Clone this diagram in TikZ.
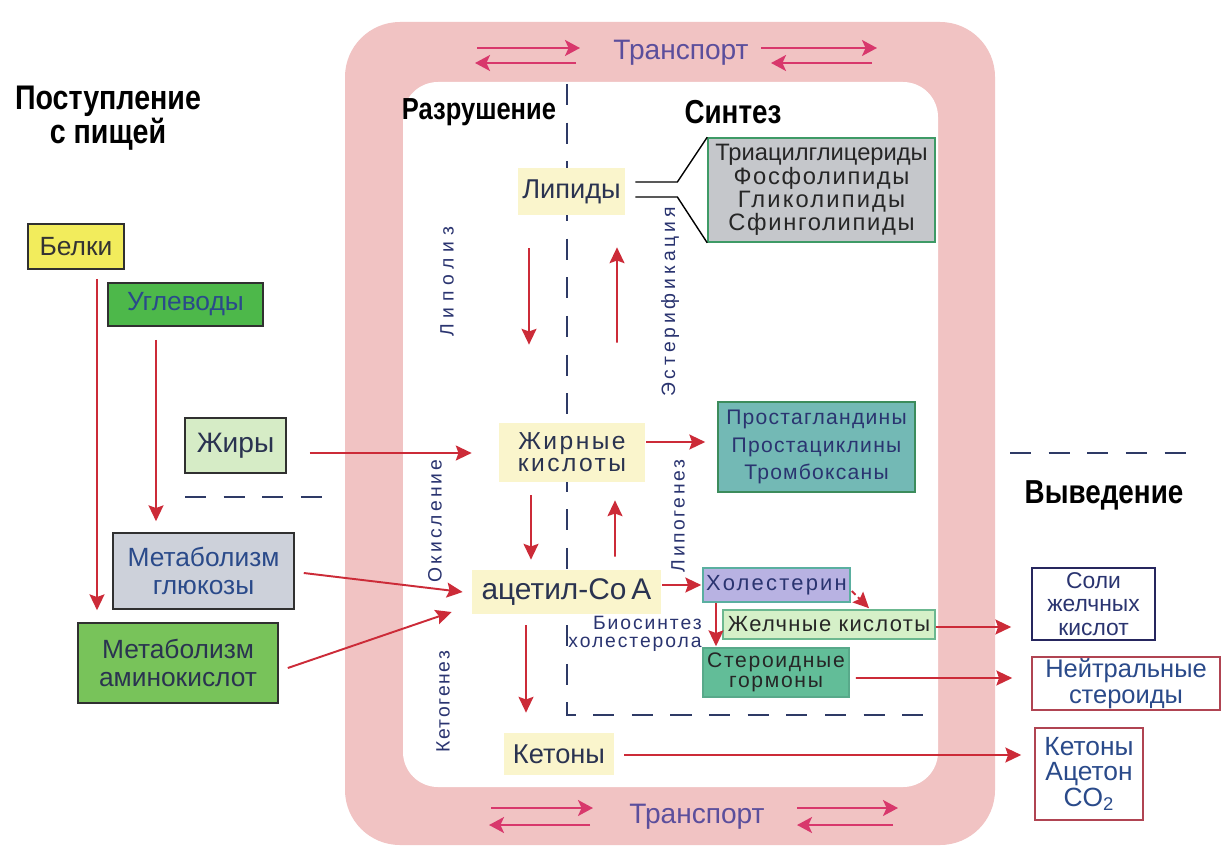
\documentclass[tikz,border=0pt]{standalone}
\usepackage{fontspec}
\usepackage{graphicx}
\setmainfont{Liberation Sans}
\usetikzlibrary{arrows.meta,calc}
\definecolor{pinkB}{HTML}{F1C3C3}
\definecolor{redA}{HTML}{CC2B38}
\definecolor{magA}{HTML}{D8386C}
\definecolor{dashC}{HTML}{2E3A66}
\definecolor{hlY}{HTML}{FAF5CC}
\definecolor{belkiY}{HTML}{F2EC5C}
\definecolor{uglG}{HTML}{4DB84A}
\definecolor{zhirG}{HTML}{D6ECC6}
\definecolor{glukG}{HTML}{CDD1DA}
\definecolor{aminoG}{HTML}{78C35A}
\definecolor{trigF}{HTML}{C5C7CB}
\definecolor{trigB}{HTML}{3E9A66}
\definecolor{prostF}{HTML}{73B9B5}
\definecolor{prostB}{HTML}{3C8C5C}
\definecolor{cholF}{HTML}{B8B2E2}
\definecolor{cholB}{HTML}{5AAFA0}
\definecolor{bileF}{HTML}{D5F0C8}
\definecolor{bileB}{HTML}{6CB890}
\definecolor{sterF}{HTML}{62BD98}
\definecolor{sterB}{HTML}{58A98A}
\definecolor{soliB}{HTML}{26265E}
\definecolor{neutB}{HTML}{B04452}
\definecolor{boxK}{HTML}{303030}
\definecolor{txt}{HTML}{2A3350}
\definecolor{navyT}{HTML}{2A3470}
\definecolor{transT}{HTML}{5B4E9C}
\definecolor{uglT}{HTML}{2A4A8A}
\newcommand\fs[2]{\fontsize{#1}{#2}\selectfont}
\newcommand\ls[1]{\addfontfeature{LetterSpace=#1}}
\tikzset{
 box/.style={draw=#1, line width=0.9pt, inner sep=0pt, align=center, text=txt},
 bw/.style={minimum width=#1*0.02cm},
 bh/.style={minimum height=#1*0.02cm},
 hl/.style={fill=hlY, inner sep=0pt, align=center, text=txt},
 ra/.style={draw=redA, line width=1.1pt, -{Stealth[length=9pt,width=8.5pt,inset=1.5pt]}},
 ta/.style={draw=magA, line width=1.5pt, -{Stealth[length=8.5pt,width=9pt,inset=2pt]}},
 dl/.style={draw=dashC, line width=1pt, dash pattern=on 12pt off 10pt},
 rot/.style={rotate=90, text=navyT, inner sep=0pt},
 head/.style={text=black, align=center, inner sep=0pt},
 thinl/.style={draw=black, line width=0.8pt},
}
\begin{document}
\begin{tikzpicture}[x=0.02cm,y=-0.02cm]
\useasboundingbox (0,0) rectangle (1229,865);
\fill[white] (0,0) rectangle (1229,865);
% transport band
\fill[pinkB, rounded corners=1.1cm] (345,22) rectangle (995,845);
\fill[white, rounded corners=0.7cm] (403,82) rectangle (938,787);
% dashed separators
\draw[dl] (567,84) -- (567,715) -- (932,715);
\draw[dl] (185,497) -- (335,497);
\draw[dl] (1010,453) -- (1195,453);
% headings
\node[head, font=\fs{18.5}{17}\bfseries] (post) at (108,118) {\scalebox{0.88}[1.05]{Поступление}\\\scalebox{0.88}[1.05]{с пищей}};
\node[head, font=\fs{16.5}{18}\bfseries] (razr) at (479,112) {\scalebox{0.88}[1.05]{Разрушение}};
\node[head, font=\fs{18}{18}\bfseries] (sint) at (733,112) {\scalebox{0.88}[1.05]{Синтез}};
\node[head, font=\fs{18}{18}\bfseries] (vyv) at (1104,495) {\scalebox{0.88}[1.05]{Выведение}};
% transport
\node[text=transT, font=\fs{16}{17}, inner sep=0pt] (trT) at (681,53) {Транспорт};
\node[text=transT, font=\fs{16}{17}, inner sep=0pt] (trB) at (697,817) {Транспорт};
\draw[ta] ($(trT)+(-204,-5)$) -- ($(trT)+(-101,-5)$);
\draw[ta] ($(trT)+(-105,10)$) -- ($(trT)+(-206,10)$);
\draw[ta] ($(trT)+(80,-5)$) -- ($(trT)+(196,-5)$);
\draw[ta] ($(trT)+(191,10)$) -- ($(trT)+(90,10)$);
\draw[ta] ($(trB)+(-206,-9)$) -- ($(trB)+(-104,-9)$);
\draw[ta] ($(trB)+(-107,8)$) -- ($(trB)+(-208,8)$);
\draw[ta] ($(trB)+(100,-9)$) -- ($(trB)+(201,-9)$);
\draw[ta] ($(trB)+(196,8)$) -- ($(trB)+(100,8)$);
% intake nodes
\node[box=boxK, fill=belkiY, bw=96, bh=45, font=\fs{15}{17}, text=black!80] (belki) at (76,246.5) {Белки};
\node[box=boxK, fill=uglG, bw=155, bh=43, font=\fs{15}{17}, text=uglT] (ugl) at (185.5,304.5) {Углеводы};
\node[box=boxK, fill=zhirG, bw=101, bh=55, font=\fs{16}{18}] (zhiry) at (235.5,445.5) {Жиры};
\node[box=boxK, fill=glukG, bw=181, bh=76, font=\fs{15}{16}, text=uglT] (gluk) at (203.5,571) {Метаболизм\\глюкозы};
\node[box=boxK, fill=aminoG, bw=200, bh=80, font=\fs{15}{15.5}] (amino) at (178,663) {Метаболизм\\аминокислот};
% central nodes
\node[hl, bw=107, bh=47, font=\fs{15.5}{18}] (lipidy) at (571.5,191.5) {Липиды};
\node[box=trigB, fill=trigF, bw=227, bh=104, font=\fs{13.5}{10.8}, text=black!85] (trig) at (821.5,190) {Триацилглицериды\\{\ls{7}Фосфолипиды}\\{\ls{9}Гликолипиды}\\{\ls{7}Сфинголипиды}};
\node[hl, bw=146, bh=59, font=\fs{14}{12.5}\ls{10}] (zhk) at (572,452.5) {Жирные\\кислоты};
\node[box=prostB, fill=prostF, bw=197, bh=90, font=\fs{12}{15.5}\ls{6}, text=navyT] (prost) at (816.5,447) {Простагландины\\Простациклины\\Тромбоксаны};
\node[hl, bw=189, bh=44, font=\fs{17}{19}] (acet) at (566.5,592) {ацетил-Co\,A};
\node[box=cholB, fill=cholF, bw=147, bh=34, font=\fs{12.5}{14}\ls{10}, text=navyT] (chol) at (776.5,585) {Холестерин};
\node[box=bileB, fill=bileF, bw=212, bh=29, font=\fs{12.5}{14}\ls{6}, text=black!85] (bile) at (829,624.5) {Желчные кислоты};
\node[box=sterB, fill=sterF, bw=146, bh=49, font=\fs{12}{11.3}\ls{8}, text=black!85] (ster) at (776,672.5) {Стероидные\\гормоны};
\node[hl, bw=110, bh=42, font=\fs{15.5}{18}] (ket) at (559,754) {Кетоны};
\node[text=navyT, align=right, inner sep=0pt, font=\fs{11}{10.5}\ls{10}, anchor=east] (bios) at (702,634) {Биосинтез\\холестерола};
% output nodes
\node[box=soliB, fill=white, bw=123, bh=72, font=\fs{13}{13.5}, text=navyT] (soli) at (1093.5,604) {Соли\\желчных\\кислот};
\node[box=neutB, fill=white, bw=188, bh=53, font=\fs{14.5}{14.5}, text=uglT] (neut) at (1126,683.5) {Нейтральные\\стероиды};
\node[box=neutB, fill=white, bw=108, bh=92, font=\fs{15}{14.5}, text=uglT] (ketout) at (1089,774) {Кетоны\\Ацетон\\CO\textsubscript{2}};
% rotated labels
\node[rot, font=\fs{11}{13}\ls{30}] (lipoliz) at (447,282) {Липолиз};
\node[rot, font=\fs{11}{13}\ls{20}] (ester) at (670,302) {Эстерификация};
\node[rot, font=\fs{11}{13}\ls{16}] (okisl) at (435,521) {Окисление};
\node[rot, font=\fs{11}{13}\ls{13}] (lipog) at (678,516) {Липогенез};
\node[rot, font=\fs{11}{13}\ls{9}] (ketog) at (443,702) {Кетогенез};
% lipid branches
\draw[thinl] ($(lipidy.east)+(10,-9.5)$) -- ++(42,0) -- (trig.north west);
\draw[thinl] ($(lipidy.east)+(10,5.5)$) -- ++(42,0) -- (trig.south west);
% red arrows
\draw[ra] ($(belki.south)+(21,9)$) -- ($(amino.north)+(-81,-12)$);
\draw[ra] ($(ugl.south)+(-29.5,13)$) -- ($(gluk.north)+(-47.5,-11)$);
\draw[ra] ($(zhiry.east)+(23,7.5)$) -- ($(zhk.west)+(-27,0.5)$);
\draw[ra] ($(gluk.east)+(9,2)$) -- ($(acet.west)+(-9,0)$);
\draw[ra] ($(amino.east)+(9,5)$) -- ($(acet.west)+(-20,20)$);
\draw[ra] ($(lipidy.south)+(-42.5,33)$) -- ($(zhk.north)+(-43,-78)$);
\draw[ra] ($(zhk.north)+(45,-80)$) -- ($(lipidy.south)+(45.5,32)$);
\draw[ra] ($(zhk.south)+(-41,13)$) -- ($(acet.north)+(-35.5,-10)$);
\draw[ra] ($(acet.north)+(48.5,-13)$) -- ($(zhk.south)+(43,18)$);
\draw[ra] ($(zhk.east)+(1,-10.5)$) -- ($(prost.west)+(-12,-5)$);
\draw[ra] ($(acet.east)+(1,-7)$) -- ($(chol.west)+(-1,0)$);
\draw[ra] ($(acet.south)+(-40.5,11)$) -- ($(ket.north)+(-33,-20)$);
\draw[ra] ($(chol.south)+(-60.5,0)$) -- ($(ster.north)+(-60,-1)$);
\draw[ra, densely dashed] ($(chol.east)+(1,6)$) -- ($(bile.north)+(40,-1)$);
\draw[ra] ($(bile.east)+(0,2.5)$) -- ($(soli.west)+(-20,23)$);
\draw[ra] ($(ster.east)+(6,5.5)$) -- ($(neut.west)+(-19,-5.5)$);
\draw[ra] ($(ket.east)+(10,1)$) -- ($(ketout.west)+(-13,-19)$);
\end{tikzpicture}
\end{document}
